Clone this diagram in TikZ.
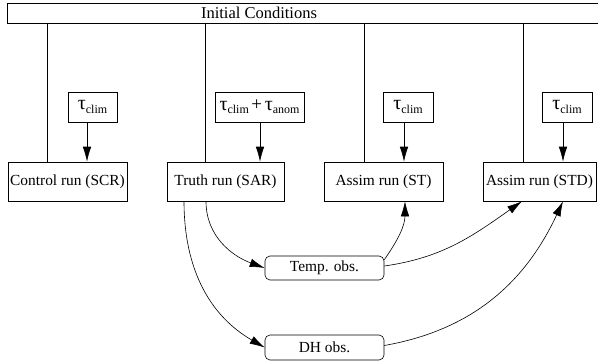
\documentclass[tikz,border=0pt]{standalone}
\usepackage{fontspec}
\setmainfont{Liberation Serif}
\usetikzlibrary{arrows.meta}
\newcommand\fsz{\fontsize{15.4}{18}\selectfont}
\newcommand\tsym{{\fontsize{20}{20}\selectfont τ}}
\newcommand\bigplus{{\fontsize{19}{20}\selectfont +}}
\newcommand\subtxt[1]{\raisebox{-0.45ex}{\fontsize{12}{13}\selectfont #1}}
\begin{document}
\begin{tikzpicture}[x=1pt,y=-1pt,
  box/.style={draw, line width=0.6pt, inner sep=0pt, font=\fsz},
  obsbox/.style={box, rounded corners=5pt},
  arr/.style={-{Latex[length=15pt,width=8.5pt]}, line width=0.6pt},
  ln/.style={line width=0.6pt}]
\useasboundingbox (0,0) rectangle (598,362);
% top box
\node[box, minimum width=594pt, minimum height=20pt] (ic) at (304,13) {};
\node[font=\fontsize{16.5}{18}\selectfont, inner sep=0pt] (ictext) at (259,13) {Initial Conditions};
% run boxes
\node[box, minimum width=119pt, minimum height=39pt] (ctrl) at (67.5,181.5) {Control run (SCR)};
\node[box, minimum width=117pt, minimum height=39pt] (truth) at (225.5,181.5) {Truth run (SAR)};
\node[box, minimum width=119pt, minimum height=39pt] (st) at (383.5,181.5) {Assim run (ST)};
\node[box, minimum width=113pt, minimum height=39pt] (std) at (539.5,181.5) {Assim run (STD)};
% forcing boxes
\node[box, minimum width=49pt, minimum height=30pt] (t1) at (92.5,107) {\tsym\subtxt{clim}};
\node[box, minimum width=89pt, minimum height=30pt] (t2) at (259.5,107) {\tsym\subtxt{clim}\,\bigplus\,\tsym\subtxt{anom}};
\node[box, minimum width=50pt, minimum height=30pt] (t3) at (408,107) {\tsym\subtxt{clim}};
\node[box, minimum width=50pt, minimum height=30pt] (t4) at (567,107) {\tsym\subtxt{clim}};
% observation boxes
\node[obsbox, minimum width=119pt, minimum height=24pt] (temp) at (324.5,268) {Temp. obs.};
\node[obsbox, minimum width=119pt, minimum height=25pt] (dh) at (324.5,347.5) {DH obs.};
% lines from initial conditions
\draw[ln] ([xshift=-20.5pt]ctrl.north) -- ([xshift=-20.5pt]ctrl.north |- ic.south);
\draw[ln] ([xshift=-20.5pt]truth.north) -- ([xshift=-20.5pt]truth.north |- ic.south);
\draw[ln] ([xshift=-19.5pt]st.north) -- ([xshift=-19.5pt]st.north |- ic.south);
\draw[ln] ([xshift=-16.5pt]std.north) -- ([xshift=-16.5pt]std.north |- ic.south);
% forcing arrows
\draw[arr] ([xshift=-5.5pt]t1.south) -- ([xshift=-5.5pt]t1.south |- ctrl.north);
\draw[arr] ([xshift=0.5pt]t2.south) -- ([xshift=0.5pt]t2.south |- truth.north);
\draw[arr] ([xshift=-4pt]t3.south) -- ([xshift=-4pt]t3.south |- st.north);
\draw[arr] ([xshift=-4pt]t4.south) -- ([xshift=-4pt]t4.south |- std.north);
% observation arrows
\draw[arr] ([xshift=-19.5pt]truth.south) to[out=-90,in=160] (temp.west);
\draw[arr] ([xshift=-41.5pt]truth.south) to[out=-90,in=150] (dh.west);
\draw[arr] ([yshift=-4pt]temp.north east) to[out=55,in=-90] ([xshift=21.5pt]st.south);
\draw[arr] ([yshift=2pt]temp.east) to[out=8,in=-145] ([xshift=-17.5pt]std.south);
\draw[arr] ([yshift=2pt]dh.east) to[out=10,in=-115] ([xshift=23.5pt]std.south);
\end{tikzpicture}
\end{document}
